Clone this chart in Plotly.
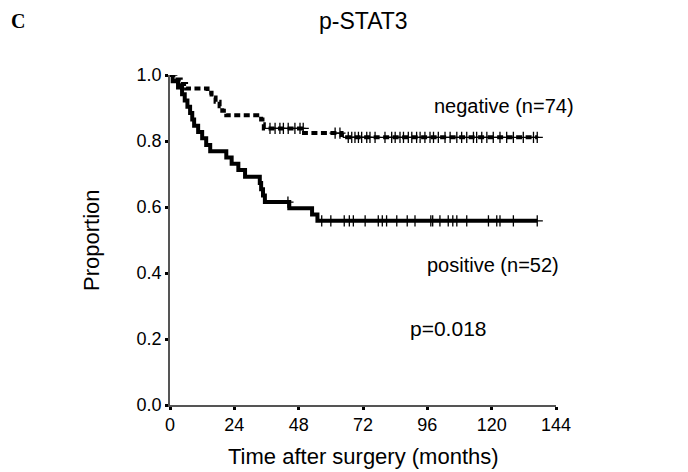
import numpy as np
import plotly.graph_objects as go

# Kaplan-Meier step data (months, proportion)
neg_time = [0, 2, 4, 6, 14, 15.5, 17, 18.5, 19.5, 21, 34, 34.5, 35, 50, 64, 65, 137]
neg_surv = [1.0, 0.986, 0.973, 0.959, 0.946, 0.932, 0.919, 0.905, 0.892, 0.878,
            0.865, 0.851, 0.838, 0.824, 0.818, 0.811, 0.811]
neg_censor = [37.3, 39.2, 41.0, 42.3, 44.1, 46.6, 48.5, 49.7, 61.6, 63.4, 66.5, 67.8,
              69.0, 70.3, 71.5, 73.4, 74.6, 76.5, 80.2, 82.7, 84.0, 85.8, 87.1, 88.9,
              90.2, 92.0, 93.3, 95.1, 97.0, 98.3, 100.1, 102.6, 104.5, 107.0, 108.8,
              110.7, 113.2, 114.4, 116.3, 118.2, 120.6, 123.1, 125.6, 128.1, 131.8,
              135.6, 137]

pos_time = [0, 1, 3, 4.5, 5.5, 6.5, 7.5, 8.3, 9, 10.5, 12, 13.5, 15, 21, 23, 25.5, 28,
            33.5, 34, 34.7, 35.4, 44.5, 53, 55, 137]
pos_surv = [1.0, 0.981, 0.962, 0.942, 0.923, 0.904, 0.885, 0.865, 0.846, 0.827, 0.808,
            0.788, 0.769, 0.750, 0.731, 0.712, 0.692, 0.673, 0.654, 0.635, 0.615, 0.596,
            0.577, 0.558, 0.558]
pos_censor = [44.0, 56.6, 60.0, 65.0, 66.9, 68.4, 72.8, 77.7, 79.2, 80.8, 84.6, 88.5,
              91.4, 97.3, 98.0, 100.7, 103.8, 105.5, 107.0, 110.7, 118.8, 121.9, 123.1,
              128.1, 137]

x_ticks = [0, 24, 48, 72, 96, 120, 144]
y_ticks = [0.0, 0.2, 0.4, 0.6, 0.8, 1.0]


def step_lookup(times, surv, t):
    idx = np.searchsorted(np.array(times), np.array(t), side="right") - 1
    return [surv[i] for i in idx]


fig = go.Figure()
fig.add_trace(go.Scatter(x=neg_time, y=neg_surv, mode="lines", line_shape="hv",
                         line=dict(color="black", width=4, dash="6px,3.5px"),
                         showlegend=False, cliponaxis=False))
fig.add_trace(go.Scatter(x=pos_time, y=pos_surv, mode="lines", line_shape="hv",
                         line=dict(color="black", width=4),
                         showlegend=False, cliponaxis=False))
fig.add_trace(go.Scatter(x=neg_censor, y=step_lookup(neg_time, neg_surv, neg_censor),
                         mode="markers",
                         marker=dict(symbol="cross-thin-open", size=8, color="black",
                                     line=dict(color="black", width=1.3)),
                         showlegend=False, cliponaxis=False))
fig.add_trace(go.Scatter(x=pos_censor, y=step_lookup(pos_time, pos_surv, pos_censor),
                         mode="markers",
                         marker=dict(symbol="cross-thin-open", size=8, color="black",
                                     line=dict(color="black", width=1.3)),
                         showlegend=False, cliponaxis=False))

# page body has an 8px margin, so the figure is offset by (8, 8) in the window
OFF = 8
L, R, T, B = 170 - OFF, 688 - 556 + OFF, 75 - OFF, 472 - 405 + OFF

font = "Liberation Sans, Arial, sans-serif"
fig.update_layout(
    width=688, height=472,
    margin=dict(l=L, r=R, t=T, b=B),
    paper_bgcolor="white", plot_bgcolor="white",
    font=dict(family=font, size=18, color="black"),
    xaxis=dict(range=[0, 144], tickvals=x_ticks, ticktext=[str(v) for v in x_ticks],
               showgrid=False, zeroline=False, showline=True, linecolor="#555",
               linewidth=1.5, ticks="outside", ticklen=3, tickwidth=2.5, tickcolor="black",
               tickfont=dict(size=18)),
    yaxis=dict(range=[0, 1], tickvals=y_ticks, ticktext=[f"{v:.1f}" for v in y_ticks],
               showgrid=False, zeroline=False, showline=True, linecolor="#555",
               linewidth=1.5, ticks="outside", ticklen=3, tickwidth=2.5, tickcolor="black",
               tickfont=dict(size=18)),
    annotations=[
        dict(text="p-STAT3", x=363, y=21, showarrow=False, font=dict(size=23)),
        dict(text="<b>C</b>", x=18, y=21, showarrow=False,
             font=dict(size=20, family="Liberation Serif, Times New Roman, serif")),
        dict(text="Proportion", x=91, y=240, textangle=-90, showarrow=False,
             font=dict(size=22)),
        dict(text="Time after surgery (months)", x=363, y=456, showarrow=False,
             font=dict(size=22)),
        dict(text="negative (n=74)", x=504, y=106, showarrow=False, font=dict(size=20)),
        dict(text="positive (n=52)", x=493, y=265, showarrow=False, font=dict(size=20)),
        dict(text="p=0.018", x=448, y=328, showarrow=False, font=dict(size=21)),
    ],
)

# convert window-pixel positions of annotations into paper coordinates
pw, ph = 688 - L - R, 472 - T - B
for a in fig.layout.annotations:
    px, py = a.x - OFF, a.y - OFF
    a.xref = "paper"
    a.yref = "paper"
    a.x = (px - L) / pw
    a.y = 1 - (py - T) / ph
    a.xanchor = "center"
    a.yanchor = "middle"

fig.write_html("out.html")
